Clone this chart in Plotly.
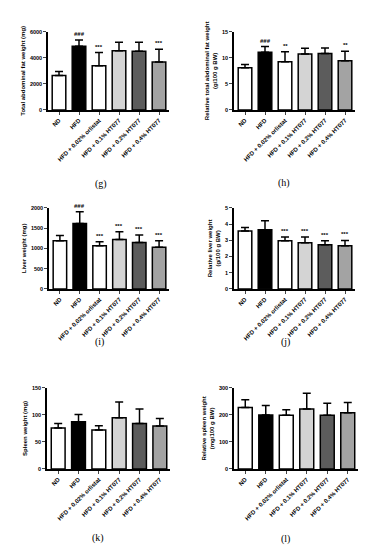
import plotly.graph_objects as go

W, H = 368, 550

categories = ["ND", "HFD", "HFD + 0.02% orlistat", "HFD + 0.1% HT077",
              "HFD + 0.2% HT077", "HFD + 0.4% HT077"]
fill_colors = ["#ffffff", "#000000", "#ffffff", "#d4d4d4", "#5c5c5c", "#a3a3a3"]
hatched = [False, False, True, False, False, False]

# (g) Total abdominal fat weight (mg)
g_mean = [2650, 4880, 3400, 4550, 4500, 3670]
g_sd = [300, 490, 1000, 640, 690, 990]
g_sig = ["", "###", "***", "", "", "***"]
g_ticks = [0, 2000, 4000, 6000]

# (h) Relative total abdominal fat weight (g/100 g BW)
h_mean = [8.1, 11.05, 9.25, 10.75, 10.85, 9.45]
h_sd = [0.6, 1.1, 1.9, 1.1, 1.05, 1.8]
h_sig = ["", "###", "**", "", "", "**"]
h_ticks = [0, 5, 10, 15]

# (i) Liver weight (mg)
i_mean = [1190, 1615, 1066, 1221, 1148, 1025]
i_sd = [130, 287, 98, 189, 180, 164]
i_sig = ["", "###", "***", "***", "***", "***"]
i_ticks = [0, 500, 1000, 1500, 2000]

# (j) Relative liver weight (g/100 g BW)
j_mean = [3.57, 3.65, 2.97, 2.85, 2.73, 2.67]
j_sd = [0.22, 0.55, 0.23, 0.35, 0.24, 0.32]
j_sig = ["", "", "***", "***", "***", "***"]
j_ticks = [0, 1, 2, 3, 4, 5]

# (k) Spleen weight (mg)
k_mean = [75.6, 87.2, 72.0, 94.5, 84.0, 79.3]
k_sd = [8.4, 13.4, 8.0, 29.3, 27.0, 14.0]
k_sig = ["", "", "", "", "", ""]
k_ticks = [0, 50, 100, 150]

# (l) Relative spleen weight (mg/100 g BW)
l_mean = [227, 200, 199, 222, 199, 208]
l_sd = [29, 35, 20, 58, 44, 38]
l_sig = ["", "", "", "", "", ""]
l_ticks = [0, 100, 200, 300]

panels = [
    dict(mean=g_mean, sd=g_sd, sig=g_sig, ticks=g_ticks, label="(g)",
         title="Total abdominal fat weight (mg)",
         box=(40, 161, 21, 100), lab=(93, 175)),
    dict(mean=h_mean, sd=h_sd, sig=h_sig, ticks=h_ticks, label="(h)",
         title="Relative total abdominal fat weight<br>(g/100 g BW)",
         box=(226, 347, 21, 100), lab=(276, 174)),
    dict(mean=i_mean, sd=i_sd, sig=i_sig, ticks=i_ticks, label="(i)",
         title="Liver weight (mg)",
         box=(41, 161, 199, 281), lab=(91, 335)),
    dict(mean=j_mean, sd=j_sd, sig=j_sig, ticks=j_ticks, label="(j)",
         title="Relative liver weight<br>(g/100 g BW)",
         box=(226, 347, 199, 281), lab=(277, 335)),
    dict(mean=k_mean, sd=k_sd, sig=k_sig, ticks=k_ticks, label="(k)",
         title="Spleen weight (mg)",
         box=(39, 162, 381, 463), lab=(90, 533)),
    dict(mean=l_mean, sd=l_sd, sig=l_sig, ticks=l_ticks, label="(l)",
         title="Relative spleen weight<br>(mg/100 g BW)",
         box=(226, 350, 381, 463), lab=(277, 534)),
]

fig = go.Figure()
annotations = []
font_family = "Liberation Sans, Arial, sans-serif"
xr = [-0.55, 5.5]

for n, p in enumerate(panels, start=1):
    sfx = "" if n == 1 else str(n)
    x0, x1, yt, yb = p["box"]
    xs = list(range(len(categories)))
    for hatch_group in (False, True):
        sel = [i for i in xs if hatched[i] == hatch_group]
        marker = dict(color=[fill_colors[i] for i in sel],
                      line=dict(color="black", width=1.5))
        if hatch_group:
            marker["pattern"] = dict(shape="/", fgcolor="black", bgcolor="white",
                                     fgopacity=1, size=7, solidity=0.5,
                                     fillmode="replace")
        fig.add_trace(go.Bar(
            x=sel, y=[p["mean"][i] for i in sel], width=0.68,
            marker=marker,
            error_y=dict(type="data", symmetric=False,
                         array=[p["sd"][i] for i in sel],
                         arrayminus=[0] * len(sel), color="black",
                         thickness=1.5, width=4),
            xaxis="x" + sfx, yaxis="y" + sfx, showlegend=False,
        ))
    fig.update_layout(**{
        "xaxis" + sfx: dict(
            domain=[x0 / W, x1 / W], range=xr, anchor="y" + sfx,
            tickmode="array", tickvals=xs, ticktext=categories,
            tickangle=-45, ticks="outside", ticklen=3, tickwidth=1,
            showline=True, linecolor="black", linewidth=1.5,
            showgrid=False, zeroline=False, fixedrange=True,
            tickfont=dict(family=font_family, size=6, color="black", weight="bold"),
        ),
        "yaxis" + sfx: dict(
            domain=[1 - yb / H, 1 - yt / H], range=[0, p["ticks"][-1]],
            anchor="x" + sfx, tickmode="array", tickvals=p["ticks"],
            ticks="outside", ticklen=3, tickwidth=1,
            showline=True, linecolor="black", linewidth=1.5,
            showgrid=False, zeroline=False,
            tickfont=dict(family=font_family, size=5.5, color="black", weight="bold"),
            title=dict(text=p["title"], standoff=4,
                       font=dict(family=font_family, size=6, color="black", weight="bold")),
        ),
    })
    for xi, (m, s, sg) in enumerate(zip(p["mean"], p["sd"], p["sig"])):
        if sg:
            annotations.append(dict(
                x=xi, y=m + s, xref="x" + sfx, yref="y" + sfx, text=sg,
                showarrow=False, yanchor="bottom", yshift=1,
                font=dict(family=font_family, size=6, color="black", weight="bold"),
            ))
    lx, ly = p["lab"]
    annotations.append(dict(
        x=lx / W, y=1 - ly / H, xref="paper", yref="paper", text=p["label"],
        showarrow=False, xanchor="center", yanchor="middle",
        font=dict(family="Liberation Serif, Times New Roman, serif", size=10, color="black"),
    ))

fig.update_layout(
    width=W, height=H, margin=dict(l=0, r=0, t=0, b=0),
    paper_bgcolor="white", plot_bgcolor="white",
    barmode="overlay", annotations=annotations,
)

fig.write_html("out.html", config={"displayModeBar": False})
